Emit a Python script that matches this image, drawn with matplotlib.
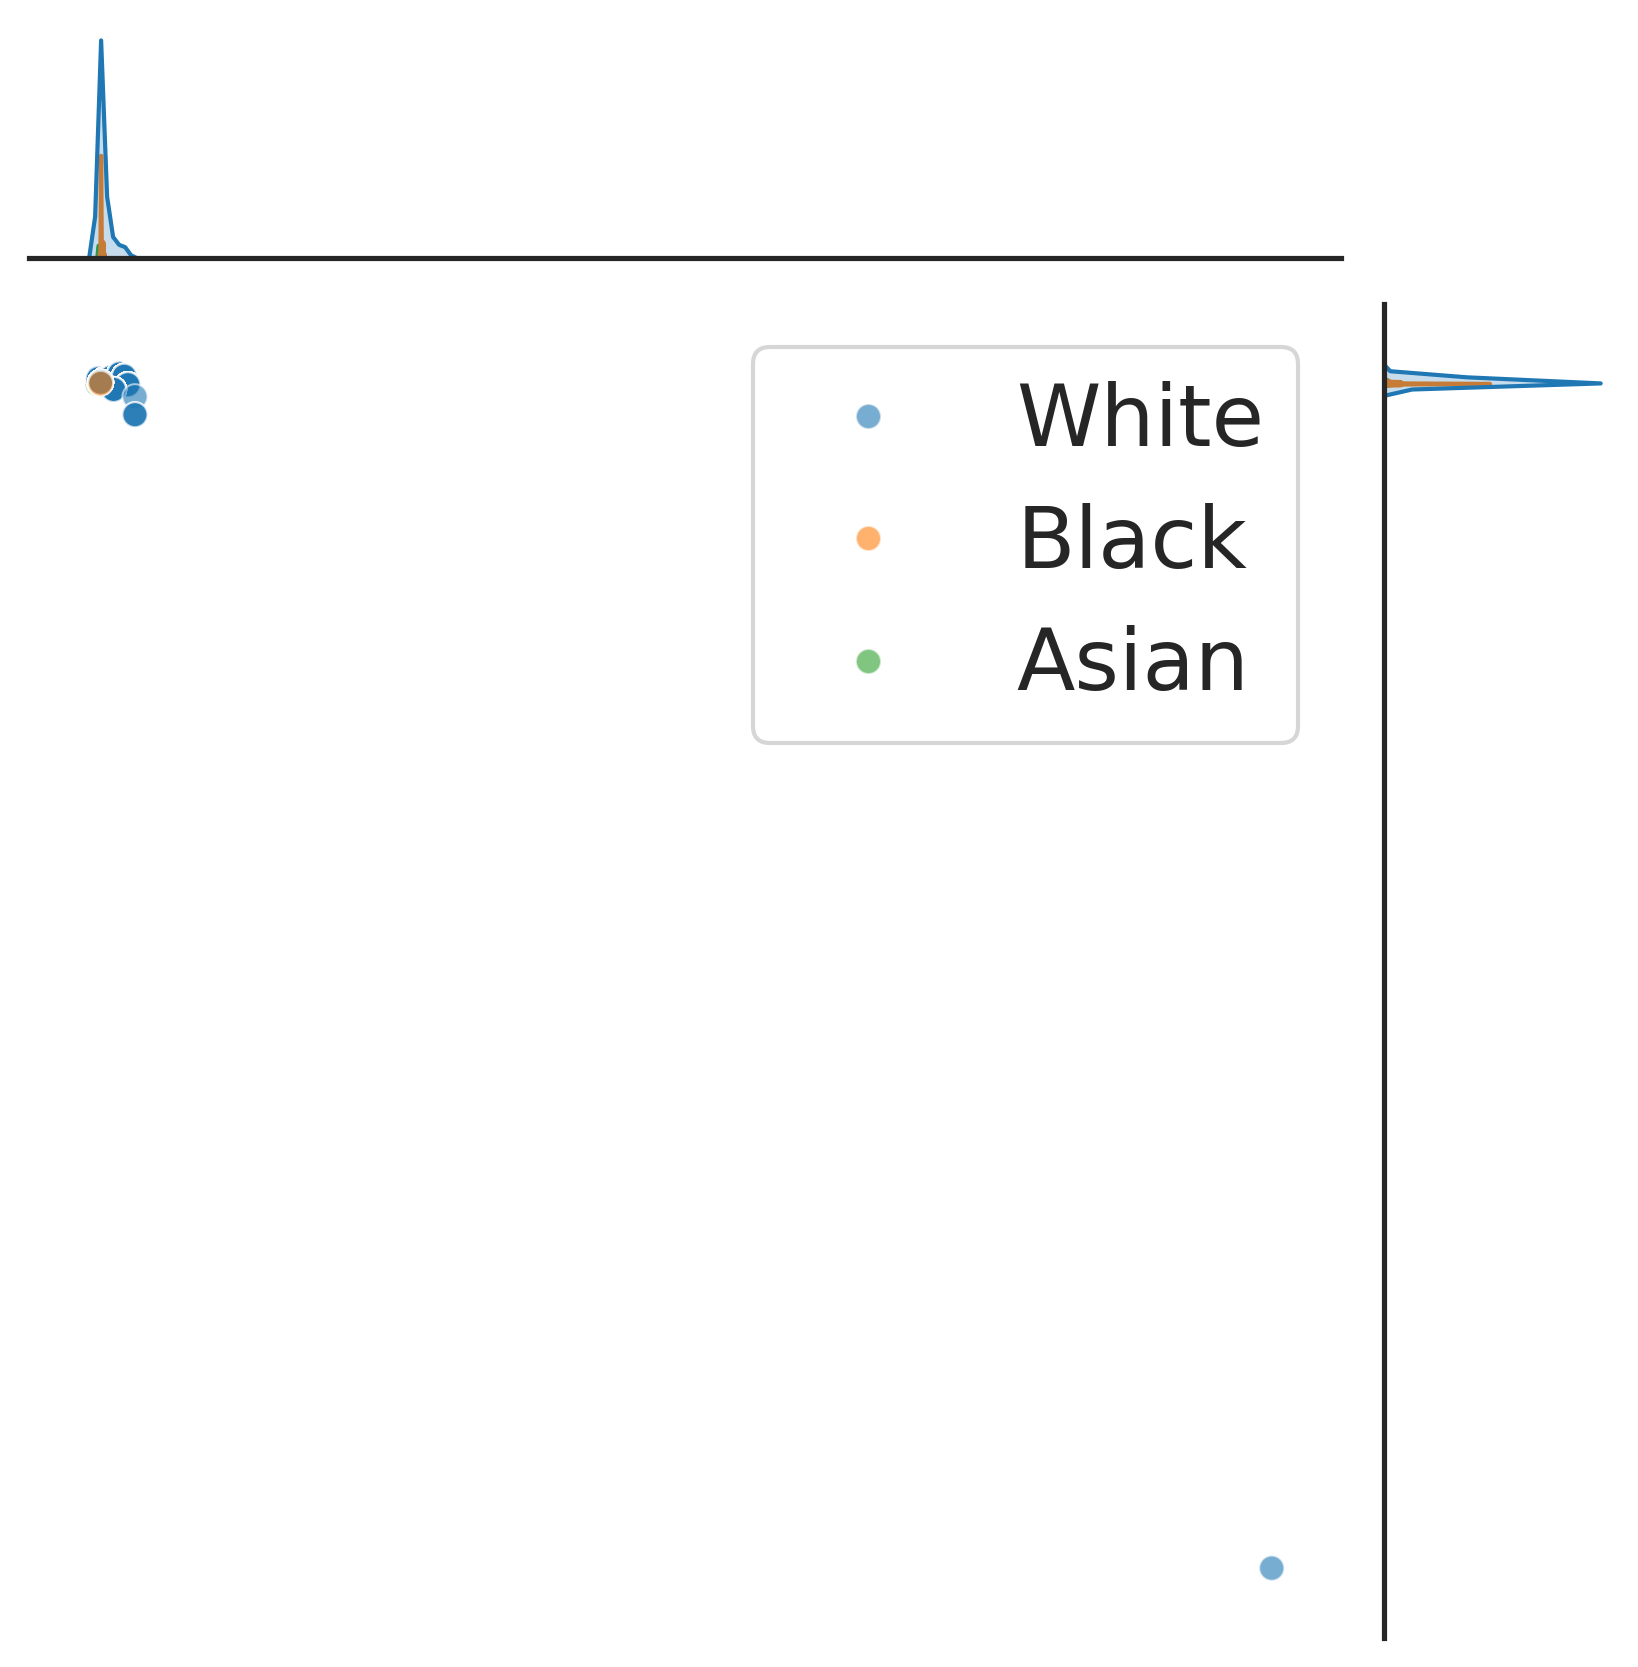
import numpy as np
import pandas as pd
import matplotlib
matplotlib.use("Agg")
import matplotlib.pyplot as plt
import seaborn as sns

sns.set_theme(style="white", context="poster")
plt.rcParams['font.family'] = ['DejaVu Sans']

# ---- data: distinct positions and how many observations sit on each ----
groups = ["White", "Black", "Asian"]
colors = ["#1f77b4", "#ff7f0e", "#2ca02c"]

white_x = [1.0, 0.8, 1.3, 1.6, 1.9, 2.3, 2.6, 3.0, 3.3, 2.1, 3.9, 3.9, 100.0]
white_y = [98.8, 99.1, 99.0, 98.5, 99.2, 98.9, 99.5, 99.3, 98.6, 98.2, 97.6, 96.1, 0.0]
white_n = [3600, 250, 300, 200, 180, 150, 80, 150, 50, 60, 1, 3, 1]

black_x = [1.0, 1.1, 1.2, 1.3, 0.9]
black_y = [98.7, 98.85, 98.6, 98.95, 98.75]
black_n = [190, 30, 30, 8, 8]

asian_x = [0.8, 0.75, 0.95, 0.85, 1.05]
asian_y = [98.75, 98.65, 98.9, 99.0, 98.6]
asian_n = [25, 15, 15, 10, 15]


def expand(xs, ys, ns, name):
    return pd.DataFrame({
        "x": np.repeat(xs, ns),
        "y": np.repeat(ys, ns),
        "race": name,
    })


white = expand(white_x, white_y, white_n, "White")
black = expand(black_x, black_y, black_n, "Black")
asian = expand(asian_x, asian_y, asian_n, "Asian")

# draw order: asian/black under the white ones, the big white stack last,
# then a single black row on top
n0 = white_n[0]
df = pd.concat([asian, black.iloc[1:], white.iloc[n0:], white.iloc[:n0],
                black.iloc[:1]], ignore_index=True)

g = sns.jointplot(data=df, x="x", y="y", hue="race", hue_order=groups,
                  palette=colors, alpha=0.6, height=11)

fig = g.figure
fig.set_size_inches(1639 / 150, 1667 / 150)
fig.set_dpi(150)

W, H = 1639, 1667
g.ax_joint.set_position([29 / W, (H - 1638) / H, 1312 / W, 1334 / H])
g.ax_marg_x.set_position([29 / W, (H - 258) / H, 1312 / W, 229 / H])
g.ax_marg_y.set_position([1384 / W, (H - 1638) / H, 227 / W, 1334 / H])

# legend without the hue title
old = g.ax_joint.get_legend()
handles = old.legend_handles
labels = [t.get_text() for t in old.get_texts()]
old.remove()
g.ax_joint.legend(handles, labels, loc="upper right", fontsize=41,
                  labelspacing=0.46, handlelength=1.88)

g.ax_joint.set_axis_off()
g.ax_joint.set_xlabel("")
g.ax_joint.set_ylabel("")

fig.savefig("out.png", dpi=150)
